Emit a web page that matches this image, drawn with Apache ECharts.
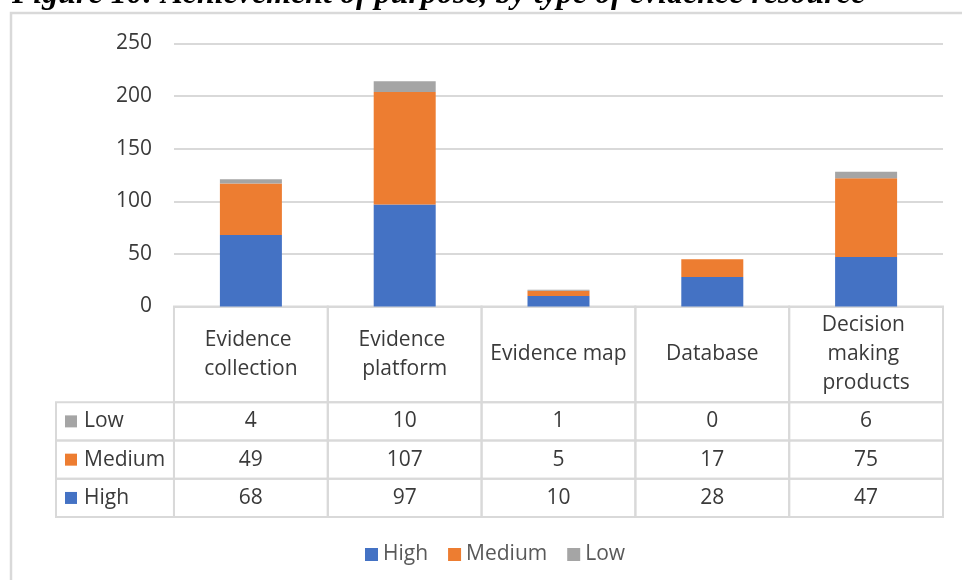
<!DOCTYPE html>
<html>
<head>
<meta charset="utf-8">
<script src="https://cdn.jsdelivr.net/npm/echarts@6/dist/echarts.min.js"></script>
<style>
html,body{margin:0;padding:0;background:#fff;}
#chart{width:962px;height:580px;}
</style>
</head>
<body>
<div id="chart"></div>
<script>
// ---- data ----
const titleText = 'Figure 10: Achievement of purpose, by type of evidence resource';
const categories = ['Evidence collection', 'Evidence platform', 'Evidence map', 'Database', 'Decision making products'];
const seriesNames = ['High', 'Medium', 'Low'];
const highValues = [68, 97, 10, 28, 47];
const mediumValues = [49, 107, 5, 17, 75];
const lowValues = [4, 10, 1, 0, 6];
const yTicks = [0, 50, 100, 150, 200, 250];

// ---- styles ----
const colors = { High: '#4472c4', Medium: '#ed7d31', Low: '#a5a5a5' };
const FONT = '"Open Sans", "Noto Sans", sans-serif';
const TEXT = '#3a3a3a';
const LINE = '#d9d9d9';

const valuesByName = { High: highValues, Medium: mediumValues, Low: lowValues };

// table layout (in table-grid units): header band then one band per row
const tableRowsOrder = ['Low', 'Medium', 'High'];
const HEADER_H = 2.5;
const ROWHEAD_W = 0.767;

const cells = [];
categories.forEach((c, i) => {
  cells.push({ kind: 'header', x0: i, x1: i + 1, y0: 0, y1: HEADER_H, text: c });
});
tableRowsOrder.forEach((name, r) => {
  const y0 = HEADER_H + r, y1 = y0 + 1;
  cells.push({ kind: 'rowhead', x0: -ROWHEAD_W, x1: 0, y0, y1, text: name, color: colors[name] });
  valuesByName[name].forEach((v, i) => {
    cells.push({ kind: 'value', x0: i, x1: i + 1, y0, y1, text: String(v) });
  });
});

const chart = echarts.init(document.getElementById('chart'), null, { renderer: 'canvas' });

const barSeries = seriesNames.map(name => ({
  name,
  type: 'bar',
  stack: 'total',
  xAxisIndex: 0,
  yAxisIndex: 0,
  barWidth: 62,
  data: valuesByName[name],
  itemStyle: { color: colors[name] },
  emphasis: { disabled: true },
  animation: false
}));

const tableSeries = {
  type: 'custom',
  name: 'table',
  xAxisIndex: 1,
  yAxisIndex: 1,
  coordinateSystem: 'cartesian2d',
  clip: false,
  silent: true,
  animation: false,
  encode: { x: [0, 2], y: [1, 3] },
  data: cells.map(c => [c.x0, c.y0, c.x1, c.y1]),
  renderItem: function (params, api) {
    const c = cells[params.dataIndex];
    const p0 = api.coord([c.x0, c.y0]);
    const p1 = api.coord([c.x1, c.y1]);
    const x = Math.min(p0[0], p1[0]), y = Math.min(p0[1], p1[1]);
    const w = Math.abs(p1[0] - p0[0]), h = Math.abs(p1[1] - p0[1]);
    const children = [{
      type: 'rect',
      shape: { x, y, width: w, height: h },
      style: { fill: null, stroke: LINE, lineWidth: 2 }
    }];
    if (c.kind === 'rowhead') {
      children.push({
        type: 'rect',
        shape: { x: x + 9, y: y + h / 2 - 6, width: 12, height: 12 },
        style: { fill: c.color }
      });
      children.push({
        type: 'text',
        style: {
          x: x + 28, y: y + h / 2, text: c.text,
          fill: TEXT, font: '21px ' + FONT,
          align: 'left', verticalAlign: 'middle'
        }
      });
    } else {
      children.push({
        type: 'text',
        style: {
          x: x + w / 2, y: y + h / 2, text: c.text,
          fill: TEXT, font: '21px ' + FONT,
          align: 'center', verticalAlign: 'middle',
          width: 140, overflow: 'break', lineHeight: 29
        }
      });
    }
    return { type: 'group', children };
  }
};

const option = {
  animation: false,
  backgroundColor: '#ffffff',
  textStyle: { fontFamily: FONT },
  graphic: [
    {
      type: 'rect', silent: true, z: -10,
      shape: { x: 11, y: 13, width: 1000, height: 700 },
      style: { fill: '#ffffff', stroke: LINE, lineWidth: 2.5 }
    },
    {
      type: 'text', silent: true,
      style: {
        x: 12, y: -5, text: titleText,
        font: 'italic bold 32px "Liberation Serif", "Times New Roman", serif',
        fill: '#000000', verticalAlign: 'middle', align: 'left'
      }
    }
  ],
  legend: {
    data: seriesNames,
    left: 360,
    top: 539,
    icon: 'rect',
    itemWidth: 13,
    itemHeight: 13,
    itemGap: 20,
    selectedMode: false,
    textStyle: { fontSize: 21, color: '#595959', fontFamily: FONT }
  },
  grid: [
    { left: 174, right: 19, top: 43.5, height: 263, containLabel: false },
    { left: 56, right: 19, top: 306.5, height: 210.6, containLabel: false }
  ],
  xAxis: [
    {
      gridIndex: 0, type: 'category', data: categories,
      axisLine: { show: false }, axisTick: { show: false }, axisLabel: { show: false }
    },
    {
      gridIndex: 1, type: 'value', min: -ROWHEAD_W, max: categories.length, show: false,
      splitLine: { show: false }
    }
  ],
  yAxis: [
    {
      gridIndex: 0, type: 'value', min: yTicks[0], max: yTicks[yTicks.length - 1], interval: yTicks[1] - yTicks[0],
      axisLine: { show: false }, axisTick: { show: false },
      axisLabel: { fontSize: 21, color: TEXT, margin: 22, fontFamily: FONT },
      splitLine: { lineStyle: { color: LINE, width: 2 } }
    },
    {
      gridIndex: 1, type: 'value', min: 0, max: HEADER_H + tableRowsOrder.length, inverse: true, show: false,
      splitLine: { show: false }
    }
  ],
  series: [...barSeries, tableSeries]
};

chart.setOption(option);
</script>
</body>
</html>
